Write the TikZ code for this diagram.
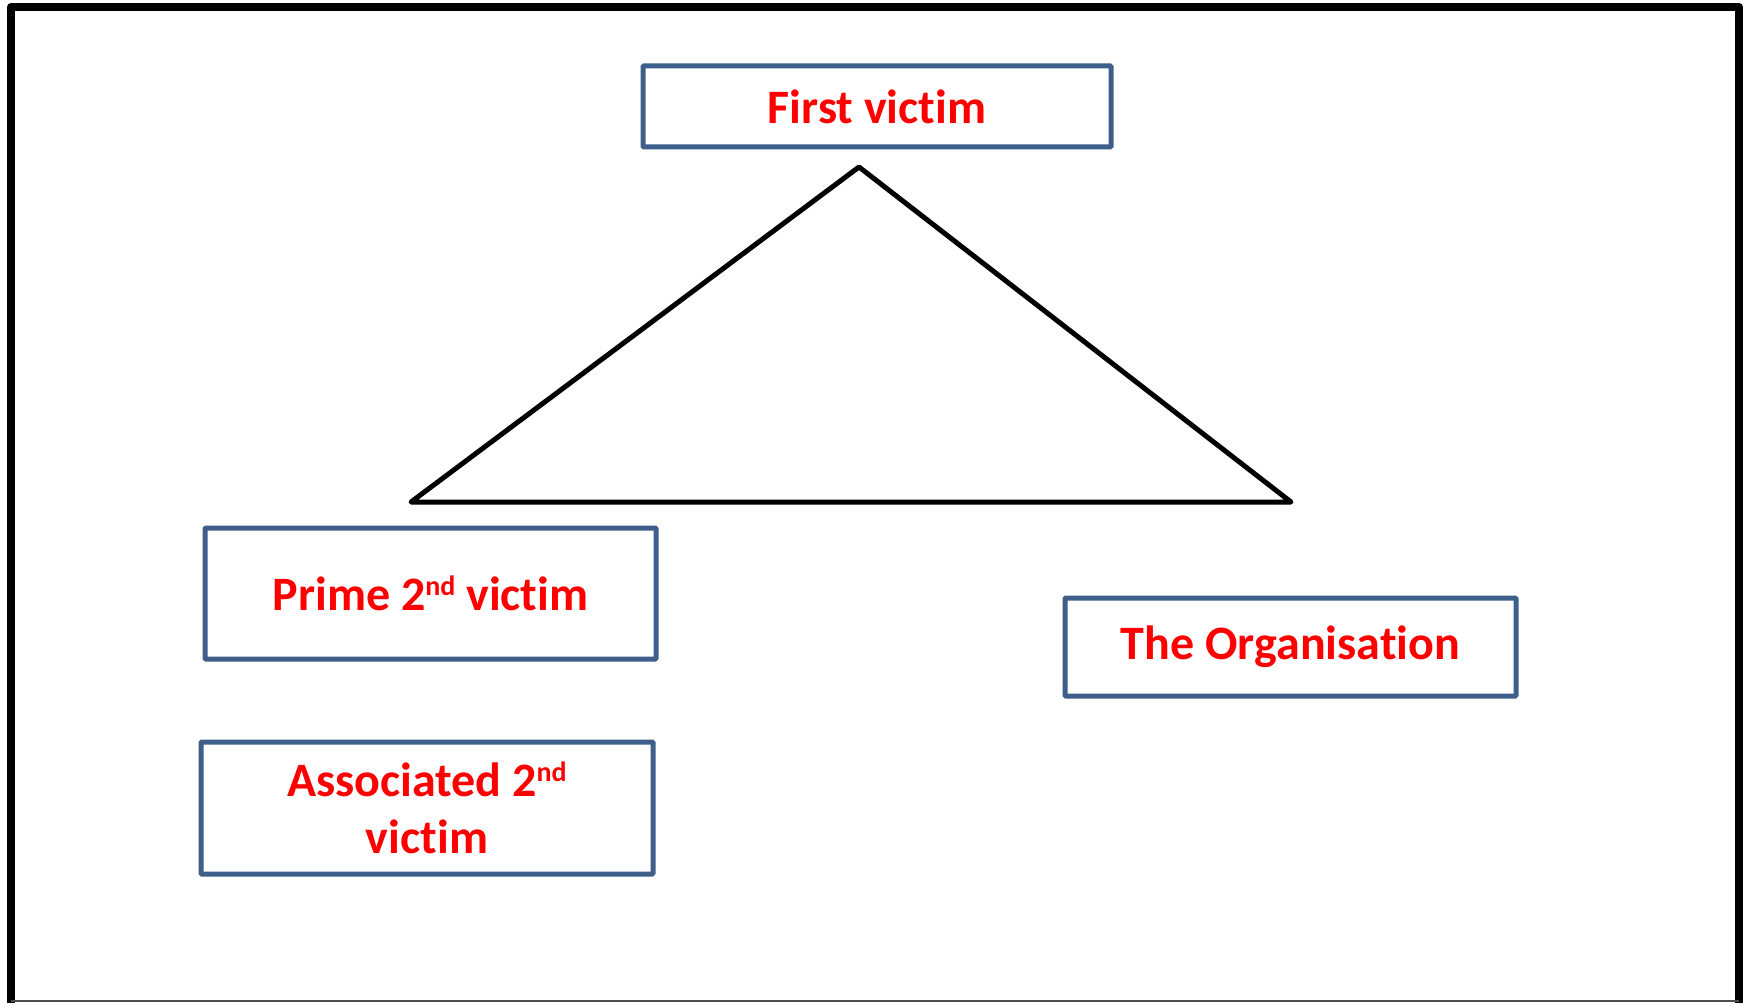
\documentclass[tikz,border=0pt]{standalone}
\usepackage{fontspec}
\setmainfont[Ligatures=NoCommon]{Carlito}
\definecolor{boxblue}{HTML}{3E5F8A}
\definecolor{txtred}{HTML}{FF0000}
\newcommand{\supnd}{\raisebox{15pt}{\fontsize{28}{28}\selectfont nd}}
\begin{document}
\begin{tikzpicture}[x=1pt,y=-1pt,
  vbox/.style={draw=boxblue,line width=5pt,rounded corners=1pt,inner sep=0pt,
    text=txtred,font=\fontsize{48}{57}\selectfont\bfseries,align=center},
  frameline/.style={line width=8pt,line cap=round}]
\useasboundingbox (0,0) rectangle (1750,1003);
\fill[white] (0,0) rectangle (1750,1003);
% outer frame
\draw[frameline,line join=round] (11,1003) -- (11,7) -- (1739,7) -- (1739,1003);
\draw[line width=2pt,black!70] (11,1001) -- (1739,1001);
% boxes
\node[vbox,minimum width=468pt,minimum height=81pt] (first) at (877,106.5) {First victim};
\node[vbox,minimum width=451pt,minimum height=131pt] (prime) at (430.5,593.5) {Prime 2\supnd{} victim};
\node[vbox,minimum width=452pt,minimum height=132pt] (assoc) at (427,808) {Associated 2\supnd\\victim};
\node[vbox,minimum width=451pt,minimum height=98pt] (org) at (1290.5,647) {The Organisation};
% triangle
\coordinate (apex) at (859,167);
\coordinate (bl) at (411,502);
\coordinate (br) at (1291,502);
\draw[line width=5pt,line join=round,line cap=round] (apex) -- (br) -- (bl) -- cycle;
\end{tikzpicture}
\end{document}
